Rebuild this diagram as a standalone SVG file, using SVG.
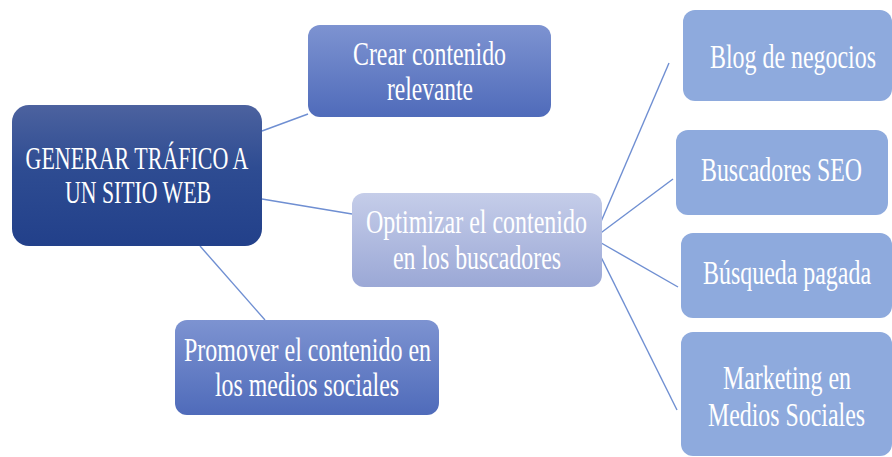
<svg xmlns="http://www.w3.org/2000/svg" width="892" height="457" viewBox="0 0 892 457">
<defs>
<linearGradient id="gMain" x1="0" y1="0" x2="0" y2="1">
<stop offset="0" stop-color="#4c629f"/>
<stop offset="0.45" stop-color="#2e4c92"/>
<stop offset="1" stop-color="#22408a"/>
</linearGradient>
<linearGradient id="gMid" x1="0" y1="0" x2="0" y2="1">
<stop offset="0" stop-color="#7d93d1"/>
<stop offset="1" stop-color="#4f6bba"/>
</linearGradient>
<linearGradient id="gLight" x1="0" y1="0" x2="0" y2="1">
<stop offset="0" stop-color="#c5cde9"/>
<stop offset="1" stop-color="#9ba8d6"/>
</linearGradient>
</defs>
<style>
text{font-family:"Liberation Serif","Times New Roman",serif;fill:#ffffff;text-anchor:middle}
.t{font-size:34px}
.tm{font-size:31px}
.leaf{fill:#8eaadd}
.conn line{stroke:#6f8fd2;stroke-width:1.4;fill:none}
</style>
<g class="conn" id="connectors">
<line x1="262" y1="131" x2="308" y2="114"/>
<line x1="262" y1="199" x2="352" y2="214"/>
<line x1="200" y1="246" x2="265" y2="320"/>
<line x1="594" y1="238" x2="669" y2="63"/>
<line x1="594" y1="238" x2="673" y2="179"/>
<line x1="596" y1="240" x2="678" y2="287"/>
<line x1="596" y1="247" x2="677" y2="410"/>
</g>
<g id="n-main">
<rect x="12" y="105" width="250" height="141" rx="17" fill="url(#gMain)"/>
<text class="tm" transform="translate(137,169) scale(0.72,1)" textLength="309.7" lengthAdjust="spacingAndGlyphs">GENERAR TRÁFICO A</text>
<text class="tm" transform="translate(138,203) scale(0.72,1)" textLength="202.8" lengthAdjust="spacingAndGlyphs">UN SITIO WEB</text>
</g>
<g id="n-crear">
<rect x="308" y="25" width="243" height="92" rx="12" fill="url(#gMid)"/>
<text class="t" transform="translate(429.5,65) scale(0.72,1)" textLength="212.5" lengthAdjust="spacingAndGlyphs">Crear contenido</text>
<text class="t" transform="translate(430,100) scale(0.72,1)" textLength="119.4" lengthAdjust="spacingAndGlyphs">relevante</text>
</g>
<g id="n-optimizar">
<rect x="352" y="193" width="250" height="94" rx="12" fill="url(#gLight)"/>
<text class="t" transform="translate(476.5,233) scale(0.72,1)" textLength="306.9" lengthAdjust="spacingAndGlyphs">Optimizar el contenido</text>
<text class="t" transform="translate(477,269) scale(0.72,1)" textLength="233.3" lengthAdjust="spacingAndGlyphs">en los buscadores</text>
</g>
<g id="n-promover">
<rect x="175" y="320" width="264" height="95" rx="12" fill="url(#gMid)"/>
<text class="t" transform="translate(307.5,361) scale(0.72,1)" textLength="343.1" lengthAdjust="spacingAndGlyphs">Promover el contenido en</text>
<text class="t" transform="translate(307,396) scale(0.72,1)" textLength="255.6" lengthAdjust="spacingAndGlyphs">los medios sociales</text>
</g>
<g id="n-blog">
<rect x="683" y="10" width="209" height="91" rx="12" class="leaf"/>
<text class="t" transform="translate(793,68) scale(0.72,1)" textLength="230.6" lengthAdjust="spacingAndGlyphs">Blog de negocios</text>
</g>
<g id="n-seo">
<rect x="676" y="130" width="212" height="85" rx="12" class="leaf"/>
<text class="t" transform="translate(781.5,181) scale(0.72,1)" textLength="223.6" lengthAdjust="spacingAndGlyphs">Buscadores SEO</text>
</g>
<g id="n-busqueda">
<rect x="681" y="233" width="211" height="85" rx="12" class="leaf"/>
<text class="t" transform="translate(787,284) scale(0.72,1)" textLength="233.3" lengthAdjust="spacingAndGlyphs">Búsqueda pagada</text>
</g>
<g id="n-marketing">
<rect x="681" y="332" width="211" height="124" rx="12" class="leaf"/>
<text class="t" transform="translate(787,389) scale(0.72,1)" textLength="177.8" lengthAdjust="spacingAndGlyphs">Marketing en</text>
<text class="t" transform="translate(786.5,426) scale(0.72,1)" textLength="218.1" lengthAdjust="spacingAndGlyphs">Medios Sociales</text>
</g>
</svg>
